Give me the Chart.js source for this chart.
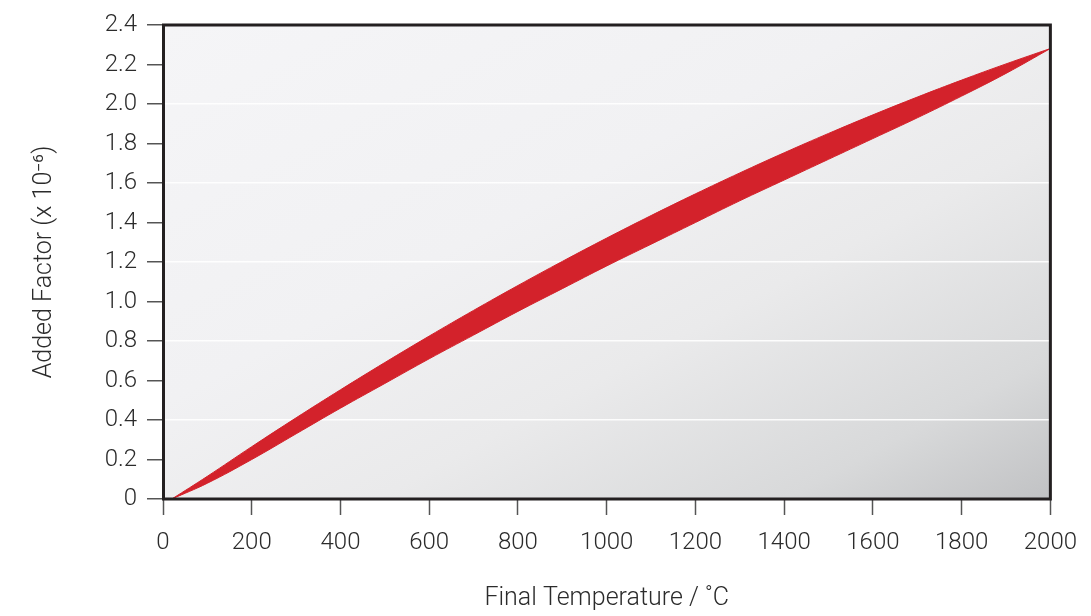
<!DOCTYPE html>
<html>
<head>
<meta charset="utf-8">
<script src="https://cdn.jsdelivr.net/npm/chart.js@4/dist/chart.umd.min.js"></script>
<style>
  html, body { margin: 0; padding: 0; background: #ffffff; }
  #wrap { width: 1091px; height: 616px; position: relative; }
</style>
</head>
<body>
<div id="wrap"><canvas id="chart" width="1091" height="616"></canvas></div>
<script>
// Final temperature (°C) and the upper / lower limits of the added factor (x 10^-6)
const temperatures = [20, 100, 200, 300, 400, 500, 600, 700, 800, 900, 1000,
                      1100, 1200, 1300, 1400, 1500, 1600, 1700, 1800, 1900, 2000];
const upperBound = [0, 0.115, 0.265, 0.411, 0.553, 0.691, 0.825, 0.955, 1.081, 1.203, 1.321,
                    1.435, 1.545, 1.651, 1.753, 1.851, 1.945, 2.035, 2.121, 2.203, 2.281];
const lowerBound = [0, 0.08, 0.20, 0.33, 0.46, 0.585, 0.71, 0.83, 0.95, 1.065, 1.18,
                    1.29, 1.40, 1.51, 1.615, 1.72, 1.825, 1.93, 2.04, 2.155, 2.281];

const xTitle = 'Final Temperature / \u02DAC';
const yTitle = 'Added Factor (x 10\u207B\u2076)';

const BAND_RED = '#d3222b';
const FRAME = '#231f20';
const TEXT = '#2b2b2b';
const FONT = "Roboto, 'Open Sans', sans-serif";

// Shaded panel behind the plot, darkening toward the lower-right corner
const panelBackground = {
  id: 'panelBackground',
  beforeDraw(chart) {
    const { ctx, chartArea: a } = chart;
    const w = a.right - a.left, h = a.bottom - a.top;
    const cx = a.left + w / 2, cy = a.top + h / 2;
    const len = Math.sqrt(w * w + h * h);
    const dx = h / len, dy = w / len;
    const half = (w * h) / len;
    const g = ctx.createLinearGradient(cx - dx * half, cy - dy * half, cx + dx * half, cy + dy * half);
    g.addColorStop(0, '#f5f5f7');
    g.addColorStop(0.4, '#f1f1f3');
    g.addColorStop(0.62, '#eaeaeb');
    g.addColorStop(0.85, '#d8d9da');
    g.addColorStop(1, '#c1c2c4');
    ctx.save();
    ctx.fillStyle = g;
    ctx.fillRect(a.left, a.top, w, h);
    ctx.restore();
  }
};

// Dark frame round the plot area
const plotFrame = {
  id: 'plotFrame',
  afterDatasetsDraw(chart) {
    const { ctx, chartArea: a } = chart;
    ctx.save();
    ctx.strokeStyle = FRAME;
    ctx.lineWidth = 3;
    ctx.strokeRect(a.left + 0.5, a.top, a.right - a.left - 0.5, a.bottom - a.top);
    ctx.restore();
  }
};

const toPoints = ys => temperatures.map((t, i) => ({ x: t, y: ys[i] }));

new Chart(document.getElementById('chart'), {
  type: 'line',
  data: {
    datasets: [
      {
        label: 'upper',
        data: toPoints(upperBound),
        borderColor: BAND_RED,
        borderWidth: 1,
        backgroundColor: BAND_RED,
        fill: '+1',
        pointRadius: 0,
        tension: 0.4
      },
      {
        label: 'lower',
        data: toPoints(lowerBound),
        borderColor: BAND_RED,
        borderWidth: 1,
        backgroundColor: BAND_RED,
        fill: false,
        pointRadius: 0,
        tension: 0.4
      }
    ]
  },
  options: {
    responsive: false,
    animation: false,
    devicePixelRatio: 1,
    layout: { padding: { top: 25, right: 36, left: 0, bottom: 0 } },
    plugins: {
      legend: { display: false },
      tooltip: { enabled: false }
    },
    scales: {
      x: {
        type: 'linear',
        min: 0,
        max: 2000,
        afterFit(scale) { scale.height = 117; },
        border: { display: false },
        grid: {
          drawOnChartArea: false,
          tickLength: 16,
          tickColor: '#555555',
          tickWidth: 1.5
        },
        ticks: {
          stepSize: 200,
          padding: 14,
          color: TEXT,
          maxRotation: 0,
          font: { family: FONT, size: 24, weight: '300' },
          callback(v) { return String(v); }
        },
        title: {
          display: true,
          text: xTitle,
          color: TEXT,
          padding: { top: 0, bottom: 2 },
          font: { family: FONT, size: 25, weight: '300' }
        }
      },
      y: {
        type: 'linear',
        min: 0,
        max: 2.4,
        afterFit(scale) { scale.width = 163; },
        border: { display: false },
        grid: {
          drawOnChartArea: true,
          color(ctx) {
            const v = ctx.tick ? Math.round(ctx.tick.value * 10) : 0;
            return (v > 0 && v < 24 && v % 4 === 0) ? 'rgba(255,255,255,0.9)' : 'rgba(0,0,0,0)';
          },
          lineWidth: 1.5,
          tickLength: 16,
          tickColor: '#555555',
          tickWidth: 1.5
        },
        ticks: {
          stepSize: 0.2,
          padding: 10,
          color: TEXT,
          font: { family: FONT, size: 24, weight: '300' },
          callback(v) { return v === 0 ? '0' : v.toFixed(1); }
        },
        title: {
          display: true,
          text: yTitle,
          color: TEXT,
          padding: { top: 30, bottom: 0 },
          font: { family: FONT, size: 25, weight: '300' }
        }
      }
    }
  },
  plugins: [panelBackground, plotFrame]
});
</script>
</body>
</html>
